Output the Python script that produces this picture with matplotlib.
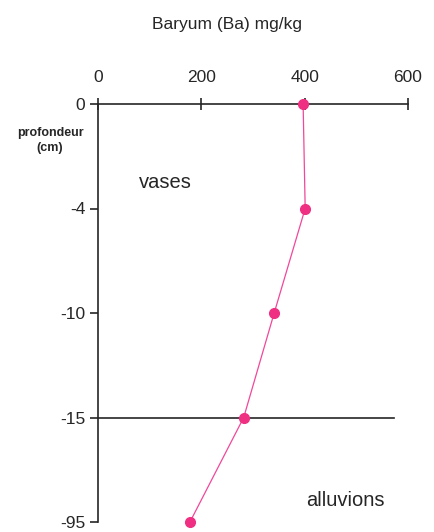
import matplotlib
matplotlib.use("Agg")
import matplotlib.pyplot as plt

# Barium concentration by depth
depth_labels = ["0", "-4", "-10", "-15", "-95"]
barium_mgkg = [397, 401, 341, 282, 178]
x_ticks = [0, 200, 400, 600]

W, H = 435, 532
fig = plt.figure(figsize=(W / 100, H / 100), dpi=100)
fig.patch.set_facecolor("white")

left, right, top, bottom = 98, 408, 104, 522
ax = fig.add_axes([left / W, 1 - bottom / H, (right - left) / W, (bottom - top) / H])

ypos = list(range(len(depth_labels)))
ax.set_xlim(0, 600)
ax.set_ylim(len(depth_labels) - 1, 0)

ink = "#262626"
pink = "#ee2f82"
ax.plot(barium_mgkg, ypos, color="#f2479a", lw=0.9, zorder=3, clip_on=False)
ax.plot(barium_mgkg, ypos, "o", color=pink, ms=7, zorder=4, clip_on=False)

# boundary between mud and alluvium
ax.plot([0, 572], [3, 3], color=ink, lw=1.2, zorder=2, clip_on=False)

for s in ("right", "bottom"):
    ax.spines[s].set_visible(False)
for s in ("top", "left"):
    ax.spines[s].set_color(ink)
    ax.spines[s].set_linewidth(1.2)

font = "Liberation Sans"
ax.xaxis.tick_top()
ax.set_xticks(x_ticks)
ax.set_xticklabels([str(v) for v in x_ticks], fontsize=12.5, family=font, color=ink)
ax.tick_params(axis="x", direction="inout", length=8, width=1.2, pad=10, colors=ink)

ax.set_yticks(ypos)
ax.set_yticklabels(depth_labels, fontsize=12.5, family=font, color=ink)
ax.tick_params(axis="y", direction="out", length=6, width=1.2, pad=3, colors=ink)

fig.text(227 / W, 1 - 25 / H, "Baryum (Ba) mg/kg", ha="center", va="center",
         fontsize=12.5, family=font, color=ink)
fig.text(50 / W, 1 - 133 / H, "profondeur", ha="center", va="center",
         fontsize=9, fontweight="bold", family=font, color=ink)
fig.text(50 / W, 1 - 148 / H, "(cm)", ha="center", va="center",
         fontsize=9, fontweight="bold", family=font, color=ink)
fig.text(165 / W, 1 - 183 / H, "vases", ha="center", va="center",
         fontsize=14.5, family=font, color=ink)
fig.text(345 / W, 1 - 500 / H, "alluvions", ha="center", va="center",
         fontsize=14.5, family=font, color=ink)

fig.savefig("out.png", dpi=100, facecolor="white")
